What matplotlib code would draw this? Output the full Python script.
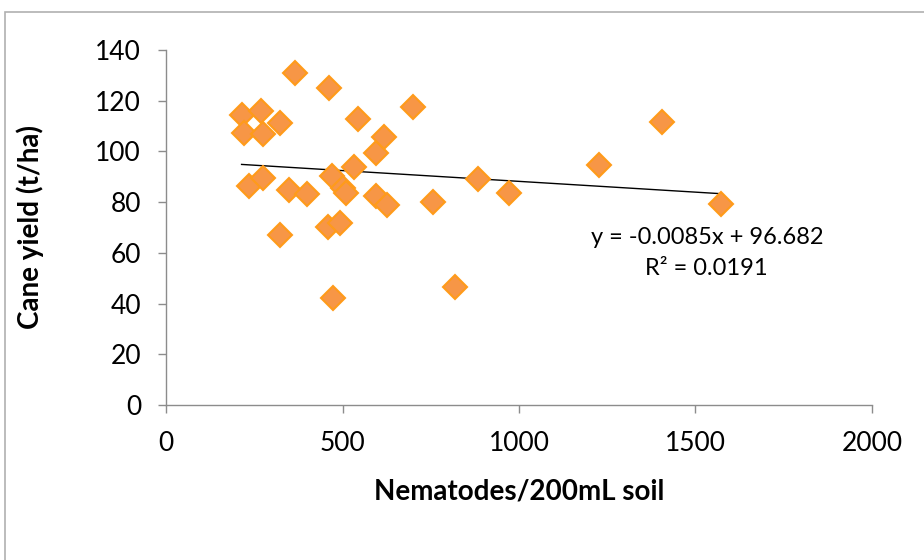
import numpy as np
import matplotlib.pyplot as plt
from matplotlib.patches import Rectangle

# данные: нематоды на 200 мл почвы и урожай тростника (т/га)
nematodes = [214, 221, 236, 268, 274, 274, 323, 323, 349, 365, 399,
             460, 462, 469, 474, 493, 502, 510, 533, 545, 595, 596,
             618, 625, 701, 757, 819, 884, 973, 1228, 1404, 1572]
cane_yield = [114.4, 107.1, 86.4, 116.1, 106.7, 89.4, 111.1, 67.0, 84.8, 130.8, 83.2,
              70.3, 124.9, 90.3, 42.1, 71.6, 85.4, 83.4, 94.0, 112.6, 99.2, 82.5,
              105.5, 78.8, 117.6, 80.2, 46.6, 89.0, 83.4, 94.6, 111.7, 79.1]

# линия тренда из подписи
slope = -0.0085
intercept = 96.682
r2 = 0.0191

x_ticks = [0, 500, 1000, 1500, 2000]
y_ticks = [0, 20, 40, 60, 80, 100, 120, 140]

plt.rcParams['font.family'] = ['Lato', 'DejaVu Sans']

fig = plt.figure(figsize=(9.24, 5.6), dpi=100)
ax = fig.add_axes([0.1797, 0.2768, 0.764, 0.634])

# рамка вокруг всей диаграммы
fig.patches.append(Rectangle((5 / 924, -0.1), 1.2, 1.1 - 12 / 560,
                             transform=fig.transFigure, fill=False,
                             edgecolor='#b0b0b0', linewidth=1.2))

ax.plot(nematodes, cane_yield, linestyle='none', marker='D', markersize=12,
        markerfacecolor='#f79646', markeredgecolor='#ff9b1a', markeredgewidth=1.5,
        zorder=3)

xl = np.array([min(nematodes), max(nematodes)])
ax.plot(xl, slope * xl + intercept, color='black', linewidth=1.0, zorder=2)

ax.text(1532, 66, 'y = -0.0085x + 96.682', ha='center', va='center', fontsize=17)
ax.text(1532, 54, 'R² = %.4f' % r2, ha='center', va='center', fontsize=17)

ax.set_xlim(0, 2000)
ax.set_ylim(0, 140)
ax.set_xticks(x_ticks)
ax.set_yticks(y_ticks)
ax.tick_params(labelsize=19, color='#8c8c8c', length=6, width=1)
ax.tick_params(axis='x', pad=13)
ax.tick_params(axis='y', pad=12)
for side in ['top', 'right']:
    ax.spines[side].set_visible(False)
for side in ['left', 'bottom']:
    ax.spines[side].set_color('#8c8c8c')
    ax.spines[side].set_linewidth(1)

ax.set_xlabel('Nematodes/200mL soil', fontsize=20, fontweight='bold', va='center')
ax.set_ylabel('Cane yield (t/ha)', fontsize=20, fontweight='bold', va='center')
ax.xaxis.set_label_coords(0.5, -0.245)
ax.yaxis.set_label_coords(-0.192, 0.5)

plt.savefig('out.png', dpi=100)
